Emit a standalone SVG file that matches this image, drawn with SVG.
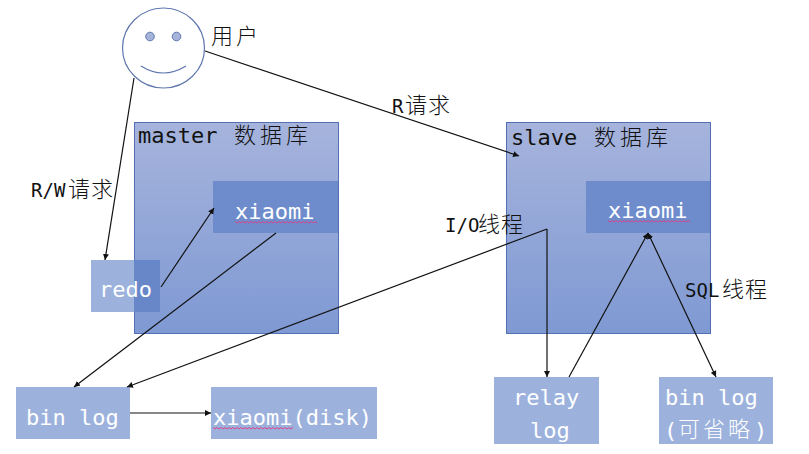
<svg xmlns="http://www.w3.org/2000/svg" width="809" height="454" viewBox="0 0 809 454">
<style>
.db{fill:url(#dbg);stroke:#5470b4;stroke-width:1}
.inner{fill:#6e8ccc}
.box{fill:#9cb2dd}
.ov{fill:#6787c9}
.t{font-family:"DejaVu Sans Mono","Liberation Mono","Noto Sans CJK SC",monospace;font-size:22px}
.c{font-family:"Noto Sans CJK SC",sans-serif;font-size:22px;font-weight:300;fill:#111}
.m{font-family:"DejaVu Sans Mono","Liberation Mono",monospace;font-size:19px;fill:#111}
.d{fill:#111}
.w{fill:#fff}
.sq{fill:none;stroke:#d8458a;stroke-width:1}
.cn{fill:none;stroke:#111;stroke-width:1.2}
.arr{marker-end:url(#a)}
.face{fill:#fff;stroke:#5f77ae;stroke-width:1.2}
</style>
<defs>
<linearGradient id="dbg" x1="0" y1="0" x2="0" y2="1"><stop offset="0" stop-color="#a6b4dc"/><stop offset="1" stop-color="#7f99d3"/></linearGradient>
<marker id="a" markerWidth="7" markerHeight="7" refX="6" refY="3" orient="auto" markerUnits="userSpaceOnUse"><path d="M0 0L6 3L0 6Z" fill="#111"/></marker>
<marker id="s" markerWidth="7" markerHeight="7" refX="0" refY="3" orient="auto" markerUnits="userSpaceOnUse"><path d="M6 0L0 3L6 6Z" fill="#111"/></marker>
</defs>
<g id="user">
<ellipse class="face" cx="163.5" cy="48" rx="41" ry="40"/>
<circle cx="150" cy="36.500" r="4.300" fill="#a6b4dc" stroke="#5f77ae"/>
<circle cx="176.500" cy="36.500" r="4.300" fill="#a6b4dc" stroke="#5f77ae"/>
<path d="M141 66Q163 80 186 66" fill="none" stroke="#5f77ae" stroke-width="1.2"/>
<text class="c" x="211" y="44" letter-spacing="3">用户</text>
</g>
<g id="master">
<rect class="db" x="134.500" y="122.500" width="204" height="211"/>
<text class="t d" x="138" y="143">master</text>
<text class="c" x="234" y="143" letter-spacing="4">数据库</text>
</g>
<g id="master-xiaomi">
<rect class="inner" x="213" y="181" width="125" height="52"/>
<text class="t w" x="235" y="219">xiaomi</text>
<path class="sq" d="M235 221.500l2 1.500 2-1.500 2 1.500 2-1.500 2 1.500 2-1.500 2 1.500 2-1.500 2 1.500 2-1.500 2 1.500 2-1.500 2 1.500 2-1.500 2 1.500 2-1.500 2 1.500 2-1.500 2 1.500 2-1.500 2 1.500 2-1.500 2 1.500 2-1.500 2 1.500 2-1.500 2 1.500 2-1.500 2 1.500 2-1.500 2 1.500 2-1.500 2 1.500 2-1.500 2 1.500 2-1.500 2 1.500 2-1.500 2 1.500 2-1.500 2 1.500"/>
</g>
<g id="redo">
<rect class="box" x="91" y="260" width="69" height="52"/>
<rect class="ov" x="134" y="260" width="26" height="52"/>
<text class="t w" x="99" y="297">redo</text>
</g>
<g id="slave">
<rect class="db" x="506.500" y="122.500" width="204" height="211"/>
<text class="t d" x="511" y="145">slave</text>
<text class="c" x="594" y="145" letter-spacing="4">数据库</text>
</g>
<g id="slave-xiaomi">
<rect class="inner" x="586" y="181" width="124" height="52"/>
<text class="t w" x="608" y="218">xiaomi</text>
<path class="sq" d="M608 220.500l2 1.500 2-1.500 2 1.500 2-1.500 2 1.500 2-1.500 2 1.500 2-1.500 2 1.500 2-1.500 2 1.500 2-1.500 2 1.500 2-1.500 2 1.500 2-1.500 2 1.500 2-1.500 2 1.500 2-1.500 2 1.500 2-1.500 2 1.500 2-1.500 2 1.500 2-1.500 2 1.500 2-1.500 2 1.500 2-1.500 2 1.500 2-1.500 2 1.500 2-1.500 2 1.500 2-1.500 2 1.500 2-1.500 2 1.500 2-1.500 2 1.500"/>
</g>
<g id="master-binlog">
<rect class="box" x="16" y="387" width="114" height="52"/>
<text class="t w" x="26" y="425">bin log</text>
</g>
<g id="disk">
<rect class="box" x="211" y="387" width="166" height="52"/>
<text class="t w" x="213" y="425">xiaomi(disk)</text>
<path class="sq" d="M213 427.500l2 1.500 2-1.500 2 1.500 2-1.500 2 1.500 2-1.500 2 1.500 2-1.500 2 1.500 2-1.500 2 1.500 2-1.500 2 1.500 2-1.500 2 1.500 2-1.500 2 1.500 2-1.500 2 1.500 2-1.500 2 1.500 2-1.500 2 1.500 2-1.500 2 1.500 2-1.500 2 1.500 2-1.500 2 1.500 2-1.500 2 1.500 2-1.500 2 1.500 2-1.500 2 1.500 2-1.500 2 1.500 2-1.500 2 1.500 2-1.500"/>
</g>
<g id="relay">
<rect class="box" x="494" y="377" width="105" height="67"/>
<text class="t w" x="513" y="405">relay</text>
<text class="t w" x="530" y="438">log</text>
</g>
<g id="slave-binlog">
<rect class="box" x="659" y="377" width="114" height="67"/>
<text class="t w" x="665" y="405">bin log</text>
<text class="t w" x="664" y="438">(</text>
<text class="c" style="fill:#fff" x="678" y="437" letter-spacing="3">可省略</text>
<text class="t w" x="754" y="438">)</text>
</g>
<g id="connectors">
<path class="cn arr" d="M134 78L105 260"/>
<path class="cn arr" d="M205 51L519 156"/>
<path class="cn arr" d="M161 287L214 208"/>
<path class="cn arr" d="M276 233L74 387"/>
<path class="cn arr" d="M547 229L127 387"/>
<path class="cn arr" d="M547 229L547 377"/>
<path class="cn arr" d="M569 377L648 233"/>
<path class="cn arr" d="M716 377L648 233" style="marker-start:url(#s)"/>
<path class="cn arr" d="M130 413L211 413"/>
</g>
<g id="labels">
<text class="m" x="31" y="197">R/W</text><text class="c" x="68" y="197" letter-spacing="1">请求</text>
<text class="m" x="392" y="113">R</text><text class="c" x="405" y="113" letter-spacing="1">请求</text>
<text class="m" x="445" y="232">I/O</text><text class="c" x="478" y="232" letter-spacing="1">线程</text>
<text class="m" x="685" y="297">SQL</text><text class="c" x="722" y="297" letter-spacing="1">线程</text>
</g>
</svg>
